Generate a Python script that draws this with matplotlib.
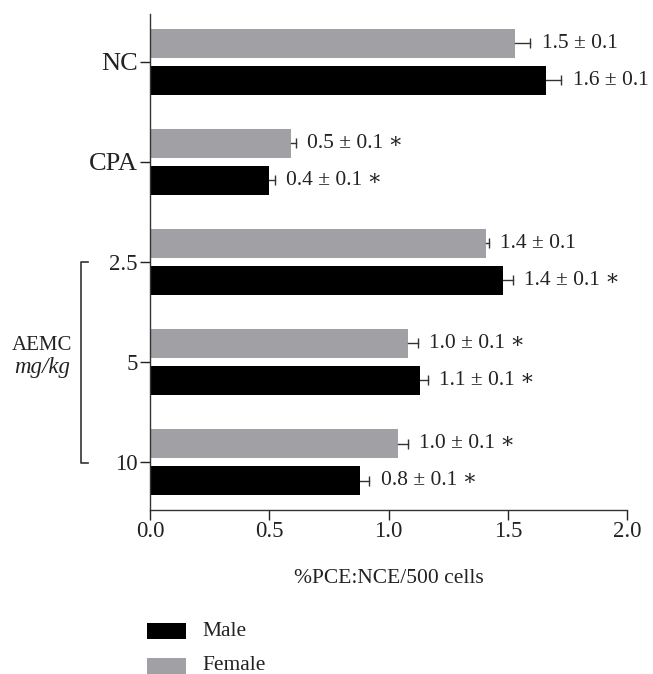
import matplotlib.pyplot as plt
from matplotlib.patches import Rectangle
import numpy as np

plt.rcParams['font.family'] = ['Liberation Serif', 'DejaVu Serif']

# groups, top to bottom
groups = ["NC", "CPA", "2.5", "5", "10"]
male = [1.66, 0.50, 1.48, 1.13, 0.88]
female = [1.53, 0.59, 1.41, 1.08, 1.04]
male_err = [0.065, 0.025, 0.04, 0.035, 0.04]
female_err = [0.065, 0.02, 0.01, 0.045, 0.042]
male_lbl = ["1.6 \u00b1 0.1", "0.4 \u00b1 0.1 \u2217", "1.4 \u00b1 0.1 \u2217",
            "1.1 \u00b1 0.1 \u2217", "0.8 \u00b1 0.1 \u2217"]
female_lbl = ["1.5 \u00b1 0.1", "0.5 \u00b1 0.1 \u2217", "1.4 \u00b1 0.1",
              "1.0 \u00b1 0.1 \u2217", "1.0 \u00b1 0.1 \u2217"]

grey = "#a0a0a5"
txt = "#222222"
ln = "#333333"

fig = plt.figure(figsize=(6.53, 6.74), dpi=100)
ax = fig.add_axes([0.2297, 0.2433, 0.7306, 0.7360])

y = np.arange(len(groups))
h = 0.29
off = 0.185

ax.barh(y - off, female, height=h, color=grey)
ax.barh(y + off, male, height=h, color="black")

# one sided error bars: line out from the bar end, cap only on the right
for vals, errs, yy in [(female, female_err, y - off), (male, male_err, y + off)]:
    for v, e, yi in zip(vals, errs, yy):
        ax.plot([v, v + e], [yi, yi], color=ln, lw=1, zorder=3)
        ax.plot([v + e], [yi], marker="|", ms=7.5, mew=1, color=ln, zorder=3)

for i in range(len(groups)):
    ax.annotate(female_lbl[i], (female[i] + female_err[i], y[i] - off),
                xytext=(8, 0), textcoords="offset points", va="center",
                ha="left", fontsize=15.5, color=txt)
    ax.annotate(male_lbl[i], (male[i] + male_err[i], y[i] + off),
                xytext=(8, 0), textcoords="offset points", va="center",
                ha="left", fontsize=15.5, color=txt)

ax.set_xlim(0, 2.0)
ax.set_ylim(4.48, -0.48)
ax.set_xticks([0.0, 0.5, 1.0, 1.5, 2.0])
ax.set_xticklabels(["0.0", "0.5", "1.0", "1.5", "2.0"])
ax.set_yticks(y)
ax.set_yticklabels(groups)
ax.tick_params(axis="both", labelsize=16.5, colors=txt, length=7, width=1)
ax.tick_params(axis="x", pad=1)
ax.tick_params(axis="y", pad=2)
for t in ax.get_yticklabels()[:2]:
    t.set_fontsize(19)
for s in ["top", "right"]:
    ax.spines[s].set_visible(False)
for s in ["left", "bottom"]:
    ax.spines[s].set_color(ln)
    ax.spines[s].set_linewidth(1)

ax.set_xlabel("%PCE:NCE/500 cells", fontsize=15.5, color=txt, labelpad=19)

# AEMC bracket
bx = 81 / 653
btop = 1 - 262 / 674
bbot = 1 - 463 / 674
bw = 7 / 653
fig.add_artist(plt.Line2D([bx + bw, bx, bx, bx + bw], [btop, btop, bbot, bbot],
                          color=ln, lw=1.2, transform=fig.transFigure))
fig.text(42 / 653, 1 - 345 / 674, "AEMC", fontsize=15, color=txt,
         ha="center", va="center")
fig.text(42 / 653, 1 - 368 / 674, "mg/kg", fontsize=16.5, color=txt,
         ha="center", va="center", style="italic")

# legend drawn by hand to sit where the reference has it
for lab, col, top in [("Male", "black", 623), ("Female", grey, 658)]:
    fig.add_artist(Rectangle((147 / 653, 1 - (top + 16) / 674), 39 / 653, 16 / 674,
                             facecolor=col, edgecolor="none",
                             transform=fig.transFigure))
    fig.text(202 / 653, 1 - (top + 8) / 674, lab, fontsize=15.5, color=txt,
             ha="left", va="center")

fig.savefig("out.png", dpi=100)
